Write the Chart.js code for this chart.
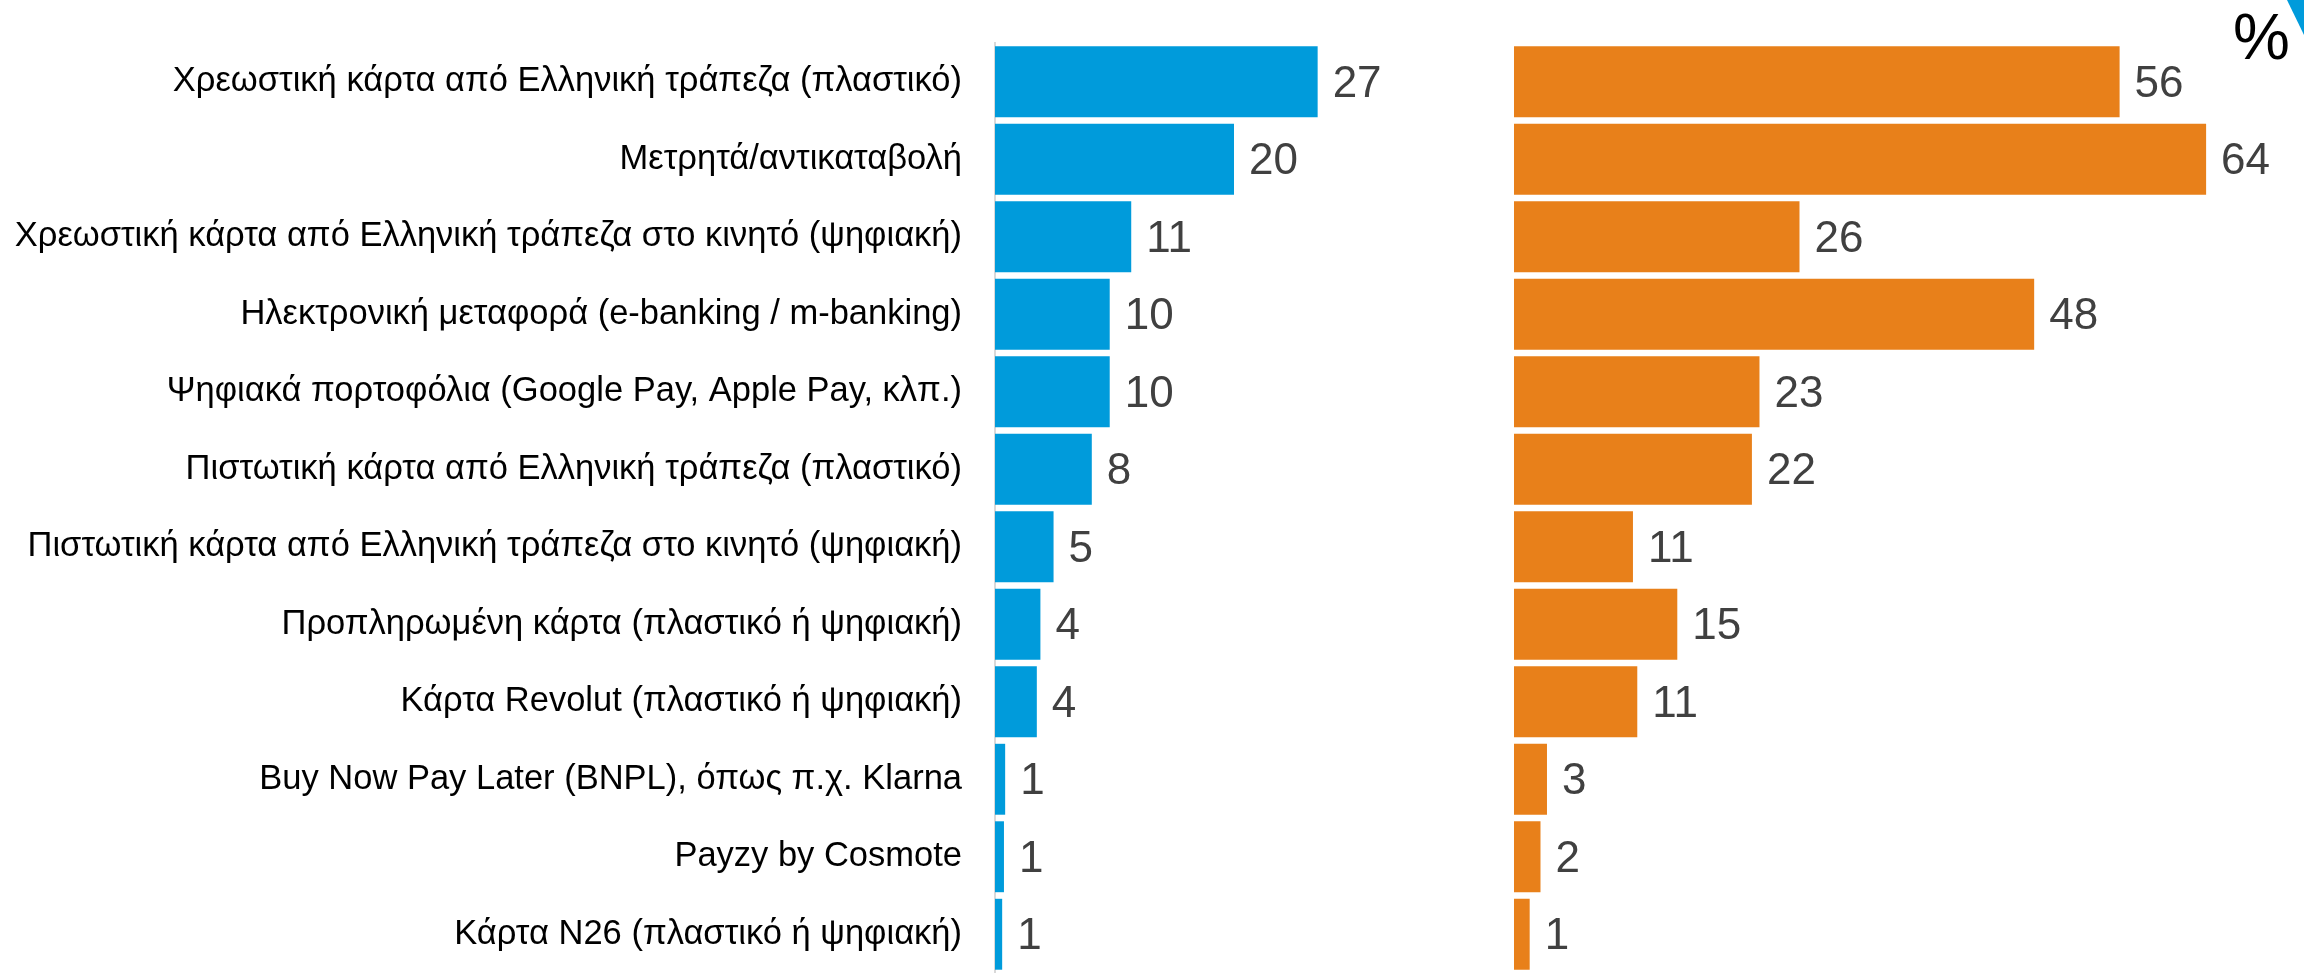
<!DOCTYPE html>
<html>
<head>
<meta charset="utf-8">
<script src="https://cdn.jsdelivr.net/npm/chart.js@4.4.1/dist/chart.umd.min.js"></script>
<style>
  html, body { margin: 0; padding: 0; background: #fff; overflow: hidden; }
  #wrap { position: relative; width: 2304px; height: 973px; }
  #leftChart { position: absolute; left: 0; top: 0; }
  #rightChart { position: absolute; left: 1514px; top: 0; }
  #corner {
    position: absolute; right: 0; top: 0; width: 17px; height: 35px;
    background: #009bdb; clip-path: polygon(0 0, 100% 0, 100% 100%);
  }
</style>
</head>
<body>
<div id="wrap">
  <canvas id="leftChart" width="1473" height="973"></canvas>
  <canvas id="rightChart" width="790" height="973"></canvas>
  <div id="corner"></div>
</div>
<script>
const categories = [
  'Χρεωστική κάρτα από Ελληνική τράπεζα (πλαστικό)',
  'Μετρητά/αντικαταβολή',
  'Χρεωστική κάρτα από Ελληνική τράπεζα στο κινητό (ψηφιακή)',
  'Ηλεκτρονική μεταφορά (e-banking / m-banking)',
  'Ψηφιακά πορτοφόλια (Google Pay, Apple Pay, κλπ.)',
  'Πιστωτική κάρτα από Ελληνική τράπεζα (πλαστικό)',
  'Πιστωτική κάρτα από Ελληνική τράπεζα στο κινητό (ψηφιακή)',
  'Προπληρωμένη κάρτα (πλαστικό ή ψηφιακή)',
  'Κάρτα Revolut (πλαστικό ή ψηφιακή)',
  'Buy Now Pay Later (BNPL), όπως π.χ. Klarna',
  'Payzy by Cosmote',
  'Κάρτα N26 (πλαστικό ή ψηφιακή)'
];

// bar lengths; the printed labels are these rounded
const leftValues = [27, 20, 11.4, 9.6, 9.6, 8.1, 4.9, 3.8, 3.5, 0.85, 0.75, 0.6];
const rightValues = [56, 64, 26.4, 48.1, 22.7, 22, 11, 15.1, 11.4, 3.05, 2.45, 1.45];

const unitLabel = '%';

const FONT = '"Liberation Sans", Arial, sans-serif';

const valueLabels = {
  id: 'valueLabels',
  afterDatasetsDraw(chart) {
    const ctx = chart.ctx;
    const meta = chart.getDatasetMeta(0);
    const values = chart.data.datasets[0].data;
    ctx.save();
    ctx.font = '44px ' + FONT;
    ctx.fillStyle = '#404040';
    ctx.textAlign = 'left';
    ctx.textBaseline = 'middle';
    meta.data.forEach((bar, i) => {
      ctx.fillText(String(Math.round(values[i])), bar.x + 15, bar.y + 3);
    });
    ctx.restore();
  }
};

const unitMark = {
  id: 'unitMark',
  afterDraw(chart) {
    const ctx = chart.ctx;
    ctx.save();
    ctx.font = '64px ' + FONT;
    ctx.fillStyle = '#000';
    ctx.textAlign = 'right';
    ctx.textBaseline = 'alphabetic';
    ctx.fillText(unitLabel, chart.width - 14, 59);
    ctx.restore();
  }
};

new Chart(document.getElementById('leftChart'), {
  type: 'bar',
  data: {
    labels: categories,
    datasets: [{
      data: leftValues,
      backgroundColor: '#009bdb',
      barPercentage: 0.915,
      categoryPercentage: 1
    }]
  },
  options: {
    responsive: false,
    animation: false,
    devicePixelRatio: 1,
    indexAxis: 'y',
    layout: { padding: { top: 43, bottom: 0, left: 0, right: 0 } },
    plugins: { legend: { display: false }, tooltip: { enabled: false } },
    scales: {
      x: { display: false, min: 0, max: 40 },
      y: {
        grid: { display: false, drawTicks: false },
        border: { display: true, color: '#d9d9d9', width: 2 },
        ticks: {
          color: '#000',
          font: { family: FONT, size: 34.5 },
          padding: 33,
          autoSkip: false
        },
        afterFit: s => {
          s.width = 995;
          s.paddingTop = 0;
          s.paddingBottom = 0;
        }
      }
    }
  },
  plugins: [valueLabels]
});

new Chart(document.getElementById('rightChart'), {
  type: 'bar',
  data: {
    labels: categories,
    datasets: [{
      data: rightValues,
      backgroundColor: '#e8801a',
      barPercentage: 0.915,
      categoryPercentage: 1
    }]
  },
  options: {
    responsive: false,
    animation: false,
    devicePixelRatio: 1,
    indexAxis: 'y',
    layout: { padding: { top: 43, bottom: 0, left: 0, right: 33 } },
    plugins: { legend: { display: false }, tooltip: { enabled: false } },
    scales: {
      x: { display: false, min: 0, max: 70 },
      y: { display: false }
    }
  },
  plugins: [valueLabels, unitMark]
});
</script>
</body>
</html>
